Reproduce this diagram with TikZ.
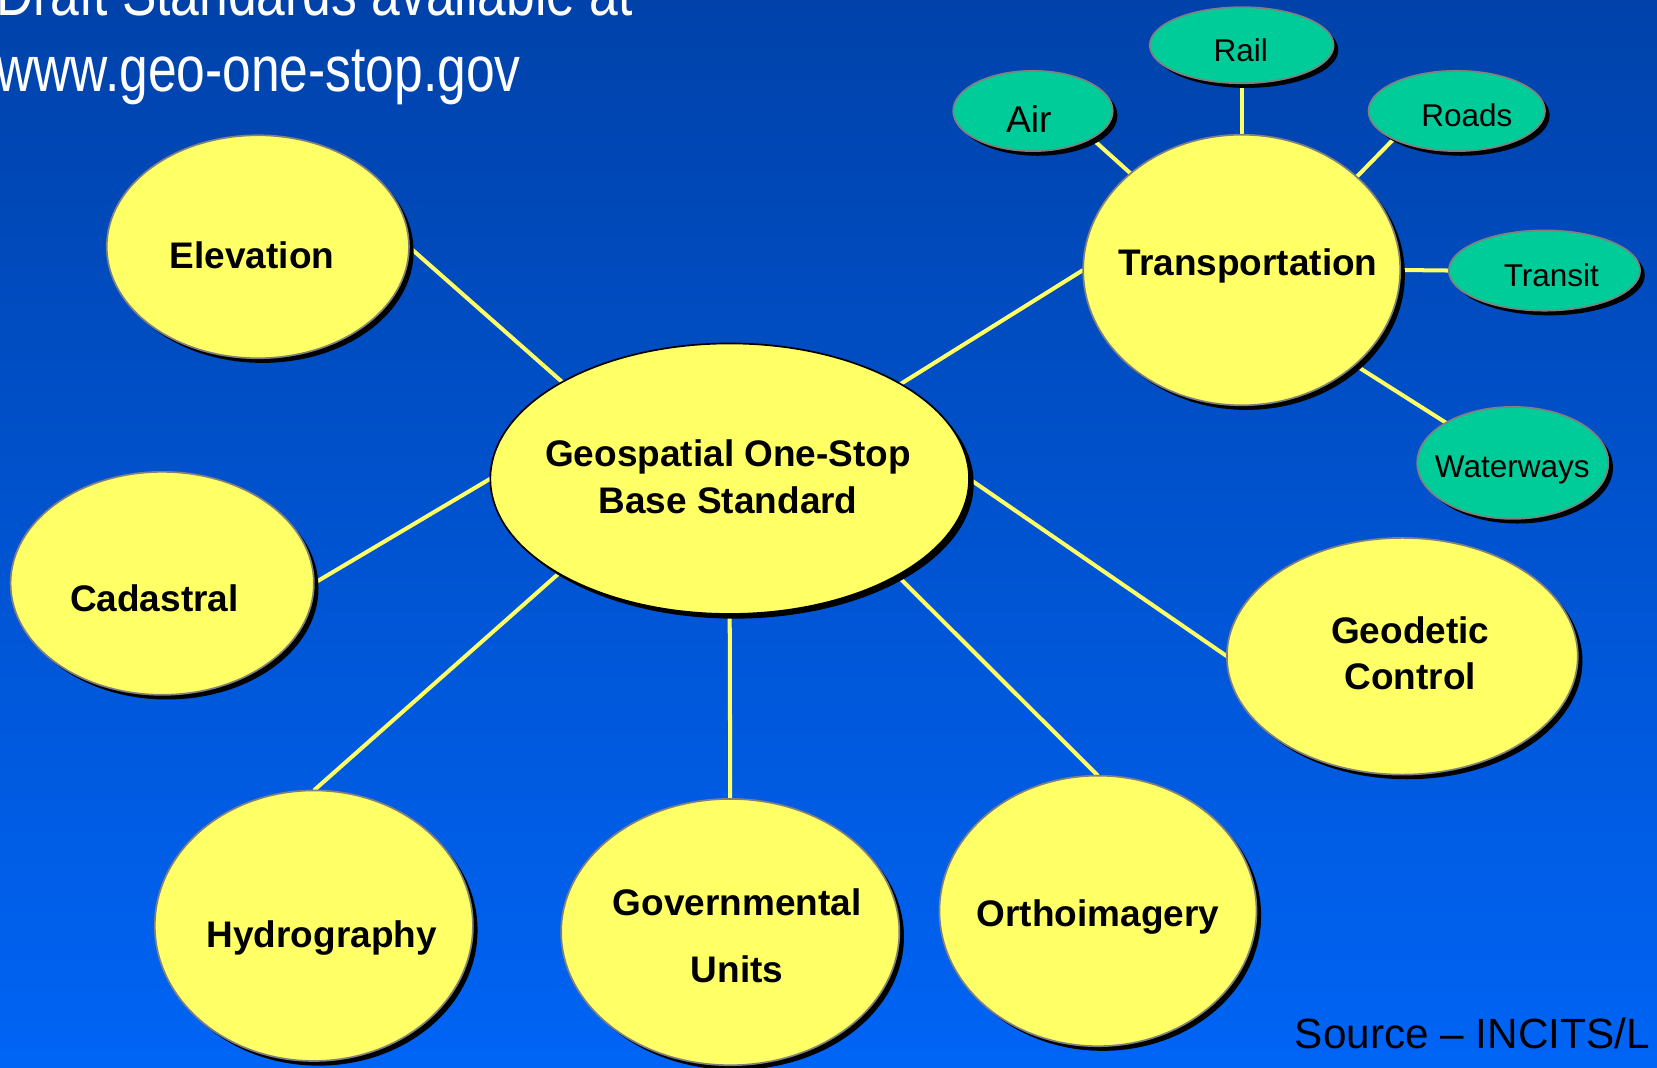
\documentclass[tikz,border=0pt]{standalone}
\usepackage{fontspec}
\setmainfont{Liberation Sans}
\usetikzlibrary{shapes.geometric,shadows,backgrounds}
\definecolor{bgtop}{RGB}{0,66,170}
\definecolor{bgbot}{RGB}{0,100,245}
\definecolor{bubyellow}{RGB}{255,255,102}
\definecolor{subteal}{RGB}{0,204,153}
\definecolor{rimgray}{RGB}{128,128,128}
\begin{document}
\begin{tikzpicture}[x=0.5pt,y=-0.5pt,
  shad/.style={drop shadow={shadow xshift=2.2pt,shadow yshift=-2.2pt,fill=black,opacity=1}},
  bubble/.style={ellipse,draw=rimgray,line width=0.8pt,fill=bubyellow,inner sep=0pt,outer sep=0pt,shad},
  subbubble/.style={bubble,fill=subteal},
  bsize/.style 2 args={minimum width=#1pt,minimum height=#2pt},
  link/.style={draw=bubyellow,line width=1.9pt},
  biglab/.style={font=\fontsize{17.5}{21}\selectfont\bfseries,text=black,inner sep=0pt,anchor=base},
  smalllab/.style={font=\fontsize{14.9}{18}\selectfont,text=black,inner sep=0pt,anchor=base},
  toptext/.style={font=\fontsize{30.5}{36}\selectfont,text=white,inner sep=0pt,anchor=base west},
]
\useasboundingbox (0,0) rectangle (1568,1010);
\clip (0,0) rectangle (1568,1010);
\begin{scope}[on background layer]
  \shade[top color=bgtop,bottom color=bgbot] (0,0) rectangle (1568,1010);
\end{scope}

% title text
\node[toptext] (t1) at (-4,14.2) {\scalebox{0.80}[1]{Draft Standards available at}};
\node[toptext] (t2) at (-4,86.7) {\scalebox{0.80}[1]{www.geo-one-stop.gov}};

% bubbles
\node[bubble,draw=black,bsize={226.5}{128}] (cen) at (690.5,453) {};
\node[bubble,bsize={143}{105.5}] (elev) at (244,233.5) {};
\node[bubble,bsize={143.5}{105.5}] (cad) at (153.5,552) {};
\node[bubble,bsize={150.5}{128}] (hyd) at (297,876) {};
\node[bubble,bsize={160}{126}] (gov) at (691,882) {};
\node[bubble,bsize={150}{128}] (orth) at (1039,862) {};
\node[bubble,bsize={166}{112}] (geod) at (1327,621) {};
\node[bubble,bsize={150}{128}] (trans) at (1175,255.5) {};

\node[subbubble,bsize={75.5}{38}] (air) at (977.5,105) {};
\node[subbubble,bsize={87}{36}] (rail) at (1175,42.8) {};
\node[subbubble,bsize={83.5}{38}] (roads) at (1378.5,105) {};
\node[subbubble,bsize={90.5}{38}] (transit) at (1461.5,256) {};
\node[subbubble,bsize={90.5}{53}] (water) at (1431.5,438) {};

% labels
\node[biglab] (cenA) at (689,441.5) {Geospatial One-Stop};
\node[biglab] (cenB) at (689,485.5) {Base Standard};
\node[biglab] (elevT) at (238.5,254) {Elevation};
\node[biglab] (cadT) at (146,579) {Cadastral};
\node[biglab] (hydT) at (304.5,897) {Hydrography};
\node[biglab] (govA) at (697.5,866.5) {Governmental};
\node[biglab] (govB) at (697.5,930) {Units};
\node[biglab] (orthT) at (1039,877) {Orthoimagery};
\node[biglab] (geodA) at (1334.5,609) {Geodetic};
\node[biglab] (geodB) at (1334.5,652) {Control};
\node[biglab] (transT) at (1181,261) {Transportation};

\node[smalllab,font=\fontsize{17.6}{21}\selectfont] (airT) at (973.5,125) {Air};
\node[smalllab] (railT) at (1174,58.5) {Rail};
\node[smalllab] (roadsT) at (1388,120) {Roads};
\node[smalllab] (transitT) at (1468,271) {Transit};
\node[smalllab] (waterT) at (1431,452) {Waterways};

\node[font=\fontsize{20}{24}\selectfont,text=black,inner sep=0pt,anchor=base west] (src) at (1225,992.6) {Source – INCITS/L};

% connectors
\begin{scope}[on background layer]
  \draw[link] (elev.east) -- (cen.150.4);
  \draw[link] (cad.east) -- (cen.west);
  \draw[link] (hyd.north) -- (cen.209.8);
  \draw[link] (gov.north) -- (cen.south);
  \draw[link] (orth.north) -- (cen.330.3);
  \draw[link] (geod.west) -- (cen.east);
  \draw[link] (trans.west) -- (cen.29.4);
  \draw[link] (air.-25.3) -- (trans.139.6);
  \draw[link] (rail.south) -- (trans.north);
  \draw[link] (roads.204.6) -- (trans.39.8);
  \draw[link] (trans.east) -- (transit.west);
  \draw[link] (trans.-40.3) -- (water.149);
\end{scope}
\end{tikzpicture}
\end{document}
